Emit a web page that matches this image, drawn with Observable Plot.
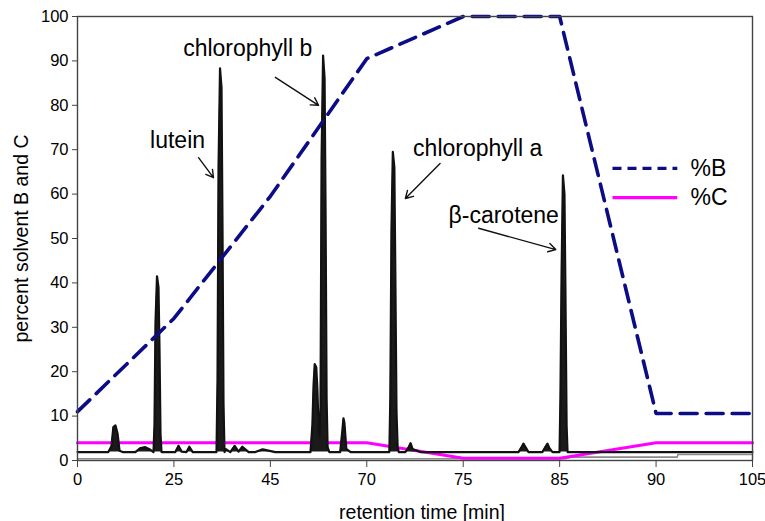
<!DOCTYPE html>
<html><head><meta charset="utf-8">
<script src="https://cdn.jsdelivr.net/npm/d3@7"></script>
<script src="https://cdn.jsdelivr.net/npm/@observablehq/plot@0.6"></script>
<style>body{margin:0;background:#fff}#chart svg{display:block}</style>
</head><body><div id="chart"></div>
<script>
// tick labels (retention time axis is drawn with equally spaced gradient time points)
const xTicks = [0, 25, 45, 70, 75, 85, 90, 105];
const yTicks = [0, 10, 20, 30, 40, 50, 60, 70, 80, 90, 100];

// %B gradient
const bTime  = [0, 25, 45, 70, 75, 85, 90, 105];
const bValue = [11, 32, 59.5, 90.5, 100, 100, 10.6, 10.6];

// %C gradient
const cTime  = [0, 70, 75, 85, 90, 105];
const cValue = [4, 4, 0.5, 0.5, 4, 4];

// chromatogram trace (black)
const traceBaseline = 1.9;
const traceTime = [0, 8.0, 8.8, 9.3, 9.85, 10.4, 10.9, 11.7, 15.0, 16.3, 17.6, 18.9,
  19.7, 19.96, 20.22, 20.61, 21.0, 21.26, 21.52, 21.78, 22.8,
  25.3, 25.95, 26.6, 27.6, 28.2, 28.9,
  33.83, 34.04, 34.25, 34.56, 34.87, 35.07, 35.28, 35.49, 35.7, 36.7, 37.6, 38.4, 39.2, 40.5, 41.9, 43.4, 46.3,
  55.4, 55.9, 56.2, 56.5, 56.9, 57.2, 57.5, 57.75,
  58.0, 58.28, 58.67, 59.06, 59.32, 59.58, 59.84, 60.3,
  63.1, 63.7, 63.95, 64.2, 64.7, 65.8,
  71.17, 71.22, 71.28, 71.35, 71.43, 71.48, 71.54, 71.6, 71.66, 72.0, 72.16, 72.27, 72.37, 72.78,
  80.73, 81.05, 81.25, 81.46, 81.77, 83.22, 83.53, 83.74, 83.94, 84.26,
  84.99, 85.04, 85.1, 85.17, 85.25, 85.3, 85.36, 85.41, 105];
const traceSignal = [1.9, 1.9, 3.2, 7.5, 7.9, 6, 2.2, 1.9, 1.9, 2.8, 3.0, 2.4,
  1.9, 8, 31, 41.5, 39, 25, 6, 1.9, 1.9,
  1.9, 3.3, 2.0, 1.9, 3.1, 1.9,
  1.9, 18, 66, 88.3, 84, 53, 13, 1.9, 2.6, 1.9, 3.3, 2.0, 3.1, 1.9, 1.9, 2.5, 1.9,
  1.9, 8, 17, 21.7, 21, 16, 7, 5.5,
  12, 68, 91.2, 86, 55, 14, 3, 1.9,
  1.9, 7, 9.5, 8.5, 2.6, 1.9,
  1.9, 14, 52, 69.5, 66, 42, 11, 3, 1.9, 1.9, 2.9, 3.9, 2.6, 1.9,
  1.9, 3.0, 3.8, 3.0, 1.9, 1.9, 3.1, 3.8, 2.8, 1.9,
  1.9, 14, 42, 64.2, 60, 38, 8, 1.9, 1.9];

// second (gray) trace
const grayTime  = [0, 85.3, 85.6, 93.3, 93.4, 105];
const grayValue = [0.4, 0.4, 0.75, 0.75, 1.35, 1.35];

// peak annotations
const peakNames = ["lutein", "chlorophyll b", "chlorophyll a", "β-carotene"];
const peakLabelTime  = [25.75, 40.3, 76.5, 79.2];
const peakLabelValue = [72, 92.8, 70.3, 55.2];
const arrowFromTime  = [30.1, 46.3, 73.8, 76.6];
const arrowFromValue = [68.2, 86.3, 66.9, 52.3];
const arrowToTime    = [33.2, 57.5, 72.0, 84.6];
const arrowToValue   = [63.7, 80.0, 59.0, 47.5];

// legend
const legendNames = ["%B", "%C"];
const legendValue = [65.8, 59.2];
const legendLineFrom = 87.74, legendLineTo = 93.3, legendTextAt = 95.35;

const W = 765, H = 521, ML = 77, MR = 13, MT = 16, MB = 61;
const xRange = xTicks.map((d, i) => ML + i * (W - ML - MR) / (xTicks.length - 1));

const B = bTime.map((t, i) => ({t, v: bValue[i]}));
const C = cTime.map((t, i) => ({t, v: cValue[i]}));
const trace = traceTime.map((t, i) => ({t, v: traceSignal[i]}));
const gray = grayTime.map((t, i) => ({t, v: grayValue[i]}));
const peaks = peakNames.map((name, i) => ({name, x: peakLabelTime[i], y: peakLabelValue[i],
  x1: arrowFromTime[i], y1: arrowFromValue[i], x2: arrowToTime[i], y2: arrowToValue[i]}));
const legend = legendNames.map((name, i) => ({name, y: legendValue[i]}));

const navy = "#0c0c87", magenta = "#ff00ff";
const font = "'Liberation Sans', Arial, Helvetica, sans-serif";

const chart = Plot.plot({
  width: W, height: H,
  marginLeft: ML, marginRight: MR, marginTop: MT, marginBottom: MB,
  style: {fontFamily: font, fontSize: "16.5px", color: "#000", background: "#fff"},
  x: {type: "linear", domain: xTicks, range: xRange},
  y: {domain: [0, 100]},
  marks: [
    Plot.axisY({ticks: yTicks, tickSize: 5, tickPadding: 4, fontSize: 16.5, label: null, stroke: "#444"}),
    Plot.axisX({ticks: xTicks, tickFormat: d => String(d), tickSize: 7, tickPadding: 6, fontSize: 16.5, label: null, stroke: "#444"}),
    Plot.line(gray, {x: "t", y: "v", stroke: "#8a8a8a", strokeWidth: 1.6}),
    Plot.line(C, {x: "t", y: "v", stroke: magenta, strokeWidth: 3}),
    Plot.areaY(trace, {x: "t", y1: () => traceBaseline, y2: "v", fill: "#1a1a1a"}),
    Plot.line(trace, {x: "t", y: "v", stroke: "#111", strokeWidth: 2.2, strokeLinejoin: "round"}),
    Plot.line(B, {x: "t", y: "v", stroke: navy, strokeWidth: 3.6, strokeDasharray: "17,9"}),
    Plot.frame({stroke: "#444", strokeWidth: 1.4}),
    Plot.arrow(peaks, {x1: "x1", y1: "y1", x2: "x2", y2: "y2", stroke: "#111", strokeWidth: 1.4, headLength: 9}),
    Plot.text(peaks, {x: "x", y: "y", text: "name", fontSize: 23, fill: "#000"}),
    Plot.link([legend[0]], {x1: () => legendLineFrom, x2: () => legendLineTo, y1: "y", y2: "y",
      stroke: navy, strokeWidth: 3.2, strokeDasharray: "9,6"}),
    Plot.link([legend[1]], {x1: () => legendLineFrom, x2: () => legendLineTo, y1: "y", y2: "y",
      stroke: magenta, strokeWidth: 3.2}),
    Plot.text(legend, {x: () => legendTextAt, y: "y", text: "name", textAnchor: "start", fontSize: 23, fill: "#000"}),
    Plot.text(["retention time [min]"], {frameAnchor: "bottom", dx: 7, dy: 58, text: d => d, fontSize: 19.5, fill: "#000"}),
    Plot.text(["percent solvent B and C"], {frameAnchor: "left", textAnchor: "middle", dx: -56, rotate: -90, text: d => d, fontSize: 19.5, fill: "#000"})
  ]
});
document.getElementById("chart").append(chart);
</script>
</body></html>
